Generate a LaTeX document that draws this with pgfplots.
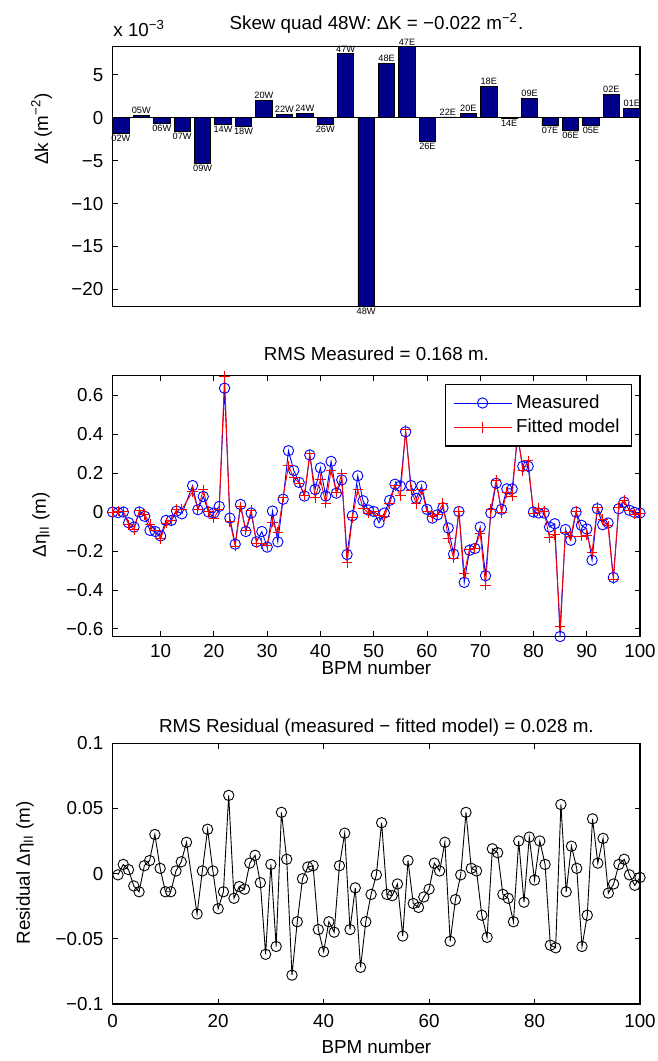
\documentclass[border=0pt]{standalone}
\usepackage{pgfplots}
\pgfplotsset{compat=1.18}
\usepackage{fontspec}
\setmainfont{Liberation Sans}
\definecolor{barblue}{rgb}{0,0,0.55}
\newcommand{\fs}{\fontsize{9.4}{11}\selectfont}
\pgfplotsset{
  myaxis/.style={
    scale only axis, width=263.65pt,
    axis line style={line width=0.7pt, black},
    every tick/.style={line width=0.45pt, black},
    tick align=inside,
    major tick length=2.6pt,
    tick label style={font=\fs},
    /pgf/number format/assume math mode=true,
    yticklabel style={anchor=east, inner sep=0pt, xshift=-4.5pt},
    xticklabel style={anchor=base, inner sep=0pt, yshift=-10.6pt},
    clip=false,
  }
}
\pgfplotstableread{
x y lab
2 0.3 05W
8 2.05 20W
9 0.39 22W
10 0.54 24W
12 7.44 47W
14 6.36 48E
15 8.26 47E
17 0.08 22E
18 0.5 20E
19 3.68 18E
21 2.25 09E
25 2.71 02E
26 1.09 01E
}\barspos
\pgfplotstableread{
x y lab
1 -1.8 02W
3 -0.7 06W
4 -1.55 07W
5 -5.35 09W
6 -0.8 14W
7 -0.97 18W
11 -0.8 26W
13 -22.0 48W
16 -2.79 26E
20 -0.05 14E
22 -0.93 07E
23 -1.51 06E
24 -0.93 05E
}\barsneg
\pgfplotstableread{
x y
1 0.000
2 -0.003
3 0.000
4 -0.055
5 -0.077
6 0.000
7 -0.022
8 -0.094
9 -0.100
10 -0.123
11 -0.043
12 -0.043
13 0.005
14 -0.009
16 0.136
17 0.012
18 0.080
19 0.000
20 -0.005
21 0.029
22 0.636
23 -0.031
24 -0.165
25 0.039
26 -0.100
27 -0.005
28 -0.153
29 -0.100
30 -0.180
31 0.005
32 -0.153
33 0.066
34 0.315
35 0.213
36 0.152
37 0.082
38 0.293
39 0.116
40 0.227
41 0.082
42 0.260
43 0.097
44 0.165
45 -0.218
46 -0.019
47 0.186
48 0.058
49 0.010
50 0.003
51 -0.055
52 -0.005
53 0.060
54 0.143
55 0.133
56 0.412
57 0.136
58 0.070
59 0.133
60 0.014
61 -0.031
62 -0.014
63 0.022
64 -0.082
65 -0.216
66 0.003
67 -0.361
68 -0.196
69 -0.187
70 -0.077
71 -0.327
72 -0.005
73 0.148
74 0.014
75 0.119
76 0.119
77 0.385
78 0.235
79 0.235
80 0.000
81 -0.005
82 -0.005
83 -0.077
84 -0.060
85 -0.639
86 -0.090
87 -0.145
88 0.000
89 -0.068
90 -0.087
91 -0.247
92 0.017
93 -0.065
94 -0.056
95 -0.336
96 0.017
97 0.051
98 0.009
99 -0.002
100 -0.005
}\measured
\pgfplotstableread{
x y
1 -0.001
2 0.004
3 0.003
4 -0.065
5 -0.091
6 0.006
7 -0.012
8 -0.064
9 -0.096
10 -0.137
11 -0.057
12 -0.041
13 0.014
14 0.015
16 0.105
17 0.014
18 0.114
19 0.002
20 -0.032
21 0.015
22 0.696
23 -0.050
24 -0.175
25 0.027
26 -0.092
27 0.009
28 -0.160
29 -0.162
30 -0.173
31 -0.051
32 -0.106
33 0.077
34 0.237
35 0.176
36 0.148
37 0.087
38 0.299
39 0.073
40 0.167
41 0.045
42 0.215
43 0.103
44 0.196
45 -0.261
46 -0.030
47 0.114
48 0.021
49 -0.006
50 0.002
51 -0.016
52 -0.021
53 0.043
54 0.135
55 0.085
56 0.422
57 0.113
58 0.044
59 0.115
60 0.002
61 -0.023
62 -0.012
63 0.046
64 -0.134
65 -0.236
66 0.002
67 -0.314
68 -0.192
69 -0.185
70 -0.109
71 -0.376
72 0.014
73 0.164
74 -0.002
75 0.100
76 0.082
77 0.410
78 0.213
79 0.263
80 -0.005
81 0.020
82 0.002
83 -0.132
84 -0.117
85 -0.586
86 -0.104
87 -0.124
88 0.004
89 -0.124
90 -0.119
91 -0.205
92 0.025
93 -0.038
94 -0.071
95 -0.344
96 0.024
97 0.062
98 0.008
99 -0.011
100 -0.008
}\fitted
\pgfplotstableread{
x y
1 -0.001
2 0.007
3 0.003
4 -0.0095
5 -0.014
6 0.006
7 0.010
8 0.030
9 0.004
10 -0.014
11 -0.014
12 0.002
13 0.009
14 0.024
16 -0.031
17 0.002
18 0.034
19 0.002
20 -0.027
21 -0.014
22 0.060
23 -0.019
24 -0.010
25 -0.012
26 0.008
27 0.014
28 -0.007
29 -0.062
30 0.007
31 -0.056
32 0.047
33 0.011
34 -0.078
35 -0.037
36 -0.004
37 0.005
38 0.006
39 -0.043
40 -0.060
41 -0.037
42 -0.045
43 0.006
44 0.031
45 -0.043
46 -0.011
47 -0.072
48 -0.037
49 -0.016
50 -0.001
51 0.039
52 -0.016
53 -0.017
54 -0.008
55 -0.048
56 0.010
57 -0.023
58 -0.026
59 -0.018
60 -0.012
61 0.008
62 0.002
63 0.024
64 -0.052
65 -0.020
66 -0.001
67 0.047
68 0.004
69 0.002
70 -0.032
71 -0.049
72 0.019
73 0.016
74 -0.016
75 -0.019
76 -0.037
77 0.025
78 -0.022
79 0.028
80 -0.005
81 0.025
82 0.007
83 -0.055
84 -0.057
85 0.053
86 -0.014
87 0.021
88 0.004
89 -0.056
90 -0.032
91 0.042
92 0.008
93 0.027
94 -0.015
95 -0.008
96 0.007
97 0.011
98 -0.001
99 -0.009
100 -0.003
}\resid
\begin{document}
\begin{tikzpicture}
\useasboundingbox (0,0) rectangle (329pt,530.5pt);
% ---------- top: bars ----------
\begin{axis}[myaxis, name=top, at={(56.35pt,377.15pt)}, anchor=south west, height=130pt,
  xmin=0.6, xmax=26.4, ymin=-22, ymax=8.26,
  xtick=\empty, ytick={-20,-15,-10,-5,0,5}, yticklabels={−20,−15,−10,−5,0,5},
  ybar, bar width=0.8,
  nodes near coords, point meta=explicit symbolic,
]
\addplot[fill=barblue, draw=black, line width=0.4pt, bar shift=0pt,
  nodes near coords style={font=\fontsize{4.6}{5}\selectfont, inner sep=0.6pt, black, anchor=south}]
  table[x=x, y=y, meta=lab] {\barspos};
\addplot[fill=barblue, draw=black, line width=0.4pt, bar shift=0pt,
  nodes near coords style={font=\fontsize{4.6}{5}\selectfont, inner sep=0.6pt, black, anchor=north}]
  table[x=x, y=y, meta=lab] {\barsneg};
\draw[black, line width=0.45pt] (axis cs:0.6,0) -- (axis cs:26.4,0);
\end{axis}
% ---------- middle ----------
\begin{axis}[myaxis, name=mid, at={(56.35pt,212.15pt)}, anchor=south west, height=130.5pt,
  xmin=1, xmax=100, ymin=-0.64, ymax=0.7,
  xtick={10,20,30,40,50,60,70,80,90,100},
  ytick={-0.6,-0.4,-0.2,0,0.2,0.4,0.6}, yticklabels={−0.6,−0.4,−0.2,0,0.2,0.4,0.6},
  legend style={at={(0.985,0.968)}, anchor=north east, draw=black, line width=0.6pt,
    font=\fs, inner xsep=4pt, inner ysep=3pt, row sep=0pt, legend cell align=left},
  legend image code/.code={\draw[mark repeat=2,mark phase=2,#1] plot coordinates {(0pt,0pt) (14.5pt,0pt) (29pt,0pt)};},
]
\addplot[blue, line width=0.45pt, mark=o, mark size=2.6pt] table[x=x,y=y] {\measured};
\addplot[red, line width=0.45pt, mark=+, mark size=2.6pt] table[x=x,y=y] {\fitted};
\legend{Measured, Fitted model}
\end{axis}
% ---------- bottom ----------
\begin{axis}[myaxis, name=bot, at={(56.35pt,28.6pt)}, anchor=south west, height=130.25pt,
  xmin=0, xmax=100, ymin=-0.1, ymax=0.1,
  xtick={0,20,40,60,80,100},
  ytick={-0.1,-0.05,0,0.05,0.1}, yticklabels={−0.1,−0.05,0,0.05,0.1},
  xticklabel style={yshift=-1.2pt},
]
\addplot[black, line width=0.45pt, mark=o, mark size=2.6pt] table[x=x,y=y] {\resid};
\end{axis}
% ---------- texts ----------
\node[anchor=base, font=\fs, inner sep=0pt] at (188.2pt,515.5pt) {Skew quad 48W: ΔK = −0.022 m\textsuperscript{−2}.};
\node[anchor=base west, font=\fs, inner sep=0pt] at (56.5pt,512pt) {x 10\textsuperscript{−3}};
\node[anchor=base, font=\fs, inner sep=0pt] at (188.2pt,350.15pt) {RMS Measured = 0.168 m.};
\node[anchor=base, font=\fs, inner sep=0pt] at (188.2pt,164.15pt) {RMS Residual (measured − fitted model) = 0.028 m.};
\node[anchor=base, font=\fs, inner sep=0pt] at (188.2pt,193.3pt) {BPM number};
\node[anchor=base, font=\fs, inner sep=0pt] at (188.2pt,4pt) {BPM number};
\node[anchor=base, rotate=90, font=\fs, inner sep=0pt] at (24pt,466pt) {Δk (m\textsuperscript{−2})};
\node[anchor=base, rotate=90, font=\fs, inner sep=0pt] at (23pt,268pt) {Δη\textsubscript{II} (m)};
\node[anchor=base, rotate=90, font=\fs, inner sep=0pt] at (15pt,94pt) {Residual Δη\textsubscript{II} (m)};
\end{tikzpicture}
\end{document}
